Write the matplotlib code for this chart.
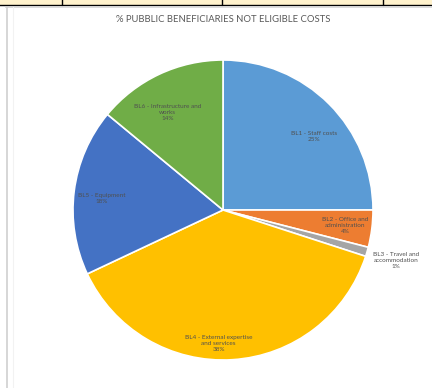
import matplotlib
matplotlib.use("Agg")
import matplotlib.pyplot as plt
from matplotlib.patches import Rectangle
from matplotlib.lines import Line2D
import numpy as np

categories = ["BL1 - Staff costs", "BL2 - Office and\nadministration",
              "BL3 - Travel and\naccommodation", "BL4 - External expertise\nand services",
              "BL5 - Equipment", "BL6 - Infrastructure and\nworks"]
values = [25, 4, 1, 38, 18, 14]
colors = ["#5B9BD5", "#ED7D31", "#A5A5A5", "#FFC000", "#4472C4", "#70AD47"]
label_dist = [0.78, 0.82, 1.2, 0.89, 0.81, 0.75]
label_dang = [-6, 0, 0, -5.5, 2, 4.5]
title = "% PUBBLIC BENEFICIARIES NOT ELIGIBLE COSTS"

plt.rcParams['font.family'] = ['Lato', 'DejaVu Sans']
W, H = 432, 388
fig = plt.figure(figsize=(W/100, H/100), dpi=100)
fig.patch.set_facecolor("white")

# frame decorations (table row above, borders)
fig.add_artist(Rectangle((0, 1 - 4.5/H), 1, 4.5/H, transform=fig.transFigure,
                         facecolor="#FFF2CC", edgecolor="none"))
fig.add_artist(Line2D([0, 1], [1 - 4.8/H]*2, transform=fig.transFigure, color="black", lw=1.0))
for xv in [62, 222, 383]:
    fig.add_artist(Line2D([xv/W]*2, [1, 1 - 5/H], transform=fig.transFigure, color="black", lw=1.0))
fig.add_artist(Line2D([6/W, 1], [1 - 7/H]*2, transform=fig.transFigure, color="#D5D5D5", lw=1.2))
fig.add_artist(Line2D([6.5/W]*2, [1 - 7/H, 0], transform=fig.transFigure, color="#D0D0D0", lw=1.2))
fig.add_artist(Line2D([12.5/W]*2, [1 - 7/H, 0], transform=fig.transFigure, color="#F2F2F2", lw=0.8))

cx, cy, r = 223, 210, 150
ax = fig.add_axes([(cx - r)/W, (H - cy - r)/H, 2*r/W, 2*r/H])
wedges, _ = ax.pie(values, colors=colors, startangle=90, counterclock=False, radius=1,
                   wedgeprops=dict(edgecolor="white", linewidth=1.2))
ax.set_xlim(-1, 1)
ax.set_ylim(-1, 1)
ax.set_aspect("equal")
ax.axis("off")

for w, cat, v, d, da in zip(wedges, categories, values, label_dist, label_dang):
    th = np.deg2rad((w.theta1 + w.theta2) / 2 + da)
    ax.text(d*np.cos(th), d*np.sin(th), f"{cat}\n{v}%", ha="center", va="center",
            fontsize=4.6, color="#505050", linespacing=1.25)

fig.text(cx/W, 1 - 19/H, title, ha="center", va="center", fontsize=6.8, color="#595959")

fig.savefig("out.png", dpi=100)
